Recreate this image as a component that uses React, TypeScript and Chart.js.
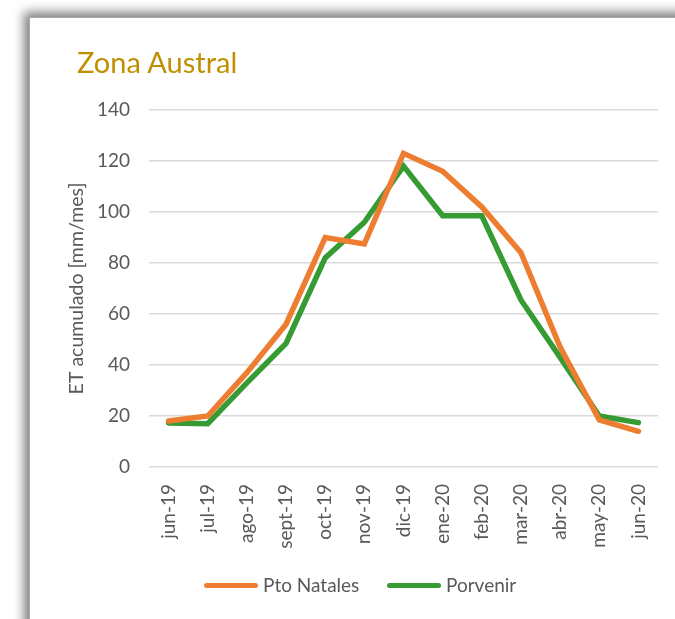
import React, { useEffect, useRef } from "react";
import { Chart, registerables } from "chart.js";

Chart.register(...registerables);

const categories = ["jun-19", "jul-19", "ago-19", "sept-19", "oct-19", "nov-19", "dic-19", "ene-20", "feb-20", "mar-20", "abr-20", "may-20", "jun-20"];
const ptoNatales = [18, 20, 37, 56, 90, 87.5, 123, 116, 102, 84, 47, 18.5, 14];
const porvenir = [17.3, 17, 33, 48.5, 82, 96, 118, 98.5, 98.5, 65.5, 43, 20, 17.4];
const yTicks = { min: 0, max: 140, step: 20 };

const ORANGE = "#ED7D31";
const GREEN = "#379B34";
const TEXT = "#595959";
const FONT = "Lato";

export default function App() {
  const ref = useRef<HTMLCanvasElement | null>(null);

  useEffect(() => {
    if (!ref.current) return;
    const chart = new Chart(ref.current, {
      type: "line",
      data: {
        labels: categories,
        datasets: [
          {
            label: "Pto Natales",
            data: ptoNatales,
            borderColor: ORANGE,
            backgroundColor: ORANGE,
            borderWidth: 5.5,
            pointRadius: 0,
            borderCapStyle: "round",
            borderJoinStyle: "miter",
            tension: 0,
          },
          {
            label: "Porvenir",
            data: porvenir,
            borderColor: GREEN,
            backgroundColor: GREEN,
            borderWidth: 5.5,
            pointRadius: 0,
            borderCapStyle: "round",
            borderJoinStyle: "miter",
            tension: 0,
          },
        ],
      },
      options: {
        responsive: false,
        animation: false,
        layout: { padding: { left: 0, top: 93, right: 17, bottom: 0 } },
        plugins: {
          legend: { display: false },
          title: { display: false },
          tooltip: { enabled: false },
        },
        scales: {
          x: {
            offset: true,
            grid: { display: false, offset: true },
            border: { display: false },
            ticks: {
              autoSkip: false,
              maxRotation: 90,
              minRotation: 90,
              padding: 9,
              color: TEXT,
              font: { family: FONT, size: 19 },
            },
            afterFit: (scale: any) => {
              scale.height = 152;
              scale.paddingLeft = 0;
              scale.paddingRight = 0;
            },
          },
          y: {
            min: yTicks.min,
            max: yTicks.max,
            grid: { color: "#D9D9D9", lineWidth: 1.5, drawTicks: false },
            border: { display: false },
            ticks: {
              stepSize: yTicks.step,
              padding: 19,
              color: TEXT,
              font: { family: FONT, size: 19 },
            },
            title: {
              display: true,
              text: "ET acumulado [mm/mes]",
              color: TEXT,
              font: { family: FONT, size: 19.5 },
              padding: { top: 36, bottom: 0 },
            },
            afterFit: (scale: any) => {
              scale.width = 120;
              scale.paddingTop = 0;
              scale.paddingBottom = 0;
            },
          },
        },
      },
    });
    return () => chart.destroy();
  }, []);

  const legendText: React.CSSProperties = {
    fontFamily: FONT,
    fontSize: 19,
    color: TEXT,
    lineHeight: "22px",
    whiteSpace: "nowrap",
  };
  const swatch = (color: string): React.CSSProperties => ({
    width: 54,
    height: 5,
    borderRadius: 3,
    background: color,
    marginRight: 5,
  });

  return (
    <div style={{ position: "fixed", left: 0, top: 0, width: 675, height: 619, overflow: "hidden", background: "#fff" }}>
      <div
        style={{
          position: "absolute",
          left: 29,
          top: 17,
          width: 700,
          height: 650,
          background: "#fff",
          boxShadow: "-5px -5px 10px rgba(0,0,0,0.5)",
          borderLeft: "1px solid #aaa",
          borderTop: "1px solid #aaa",
          boxSizing: "border-box",
        }}
      >
        <canvas ref={ref} width={646} height={602} style={{ position: "absolute", left: -1, top: -1, width: 646, height: 602 }} />
        <div
          style={{
            position: "absolute",
            left: 47,
            top: 30,
            fontFamily: FONT,
            fontSize: 29,
            lineHeight: "28px",
            color: "#BF9000",
            whiteSpace: "nowrap",
          }}
        >
          Zona Austral
        </div>
        <div style={{ position: "absolute", left: 174, top: 556, display: "flex", alignItems: "center" }}>
          <div style={swatch(ORANGE)} />
          <span style={legendText}>Pto Natales</span>
        </div>
        <div style={{ position: "absolute", left: 357, top: 556, display: "flex", alignItems: "center" }}>
          <div style={swatch(GREEN)} />
          <span style={legendText}>Porvenir</span>
        </div>
      </div>
    </div>
  );
}
